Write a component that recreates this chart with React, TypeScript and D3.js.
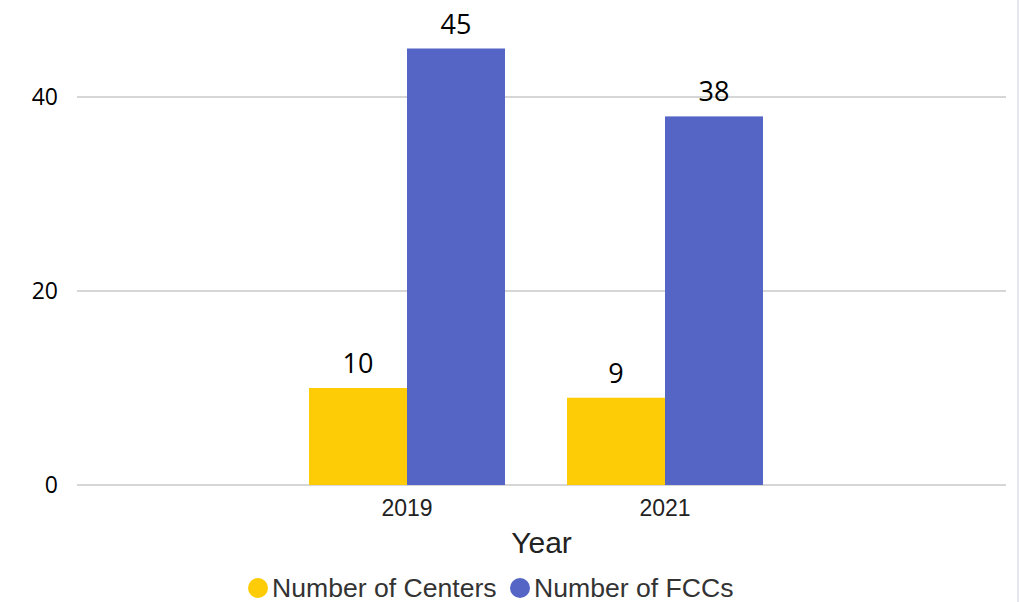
import * as d3 from 'd3';

const years = ['2019', '2021'];
const centers = [10, 9];
const fccs = [45, 38];
const seriesNames = ['Number of Centers', 'Number of FCCs'];
const yTicks = [0, 20, 40];

const W = 1019;
const H = 602;
const COLORS = ['#FECC07', '#5465C5'];
const plotLeft = 77;
const plotRight = 1006;

export default function App() {
  const y = d3.scaleLinear().domain([0, 50]).range([485, 0]);

  const x = d3.scaleBand()
    .domain(years)
    .range([76.8, 995.2])
    .paddingInner(0.2403)
    .paddingOuter(0.9);

  const x1 = d3.scaleBand()
    .domain(seriesNames)
    .range([0, x.bandwidth()]);

  const rows = years.map((yr, i) => ({ year: yr, values: [centers[i], fccs[i]] }));

  return (
    <svg
      width={W}
      height={H}
      style={{ position: 'absolute', left: 0, top: 0, background: '#fff' }}
    >
      <rect x={0} y={0} width={W} height={H} fill="#fff" />
      <rect x={1017} y={0} width={2} height={H} fill="#e6e6ee" />

      {/* grid + y labels */}
      {yTicks.map(t => (
        <g key={t}>
          <line
            x1={plotLeft}
            x2={plotRight}
            y1={y(t)}
            y2={y(t)}
            stroke="#c8c8c8"
            strokeWidth={1.5}
          />
          <text
            x={58}
            y={y(t) + 8}
            textAnchor="end"
            fontFamily="'Open Sans', sans-serif"
            fontSize={23}
            fill="#000"
          >
            {t}
          </text>
        </g>
      ))}

      {/* bars */}
      {rows.map(r => (
        <g key={r.year} transform={`translate(${x(r.year)},0)`}>
          {r.values.map((v, j) => (
            <g key={j}>
              <rect
                x={x1(seriesNames[j])}
                y={y(v)}
                width={x1.bandwidth()}
                height={y(0) - y(v)}
                fill={COLORS[j]}
              />
              <text
                x={(x1(seriesNames[j]) as number) + x1.bandwidth() / 2}
                y={y(v) - 15}
                textAnchor="middle"
                fontFamily="'Open Sans', sans-serif"
                fontSize={27}
                fill="#000"
              >
                {v}
              </text>
            </g>
          ))}
          <text
            x={x.bandwidth() / 2}
            y={516}
            textAnchor="middle"
            fontFamily="'Liberation Sans', Arial, sans-serif"
            fontSize={23}
            fill="#222"
          >
            {r.year}
          </text>
        </g>
      ))}

      <text
        x={(plotLeft + plotRight) / 2}
        y={553}
        textAnchor="middle"
        fontFamily="'Liberation Sans', Arial, sans-serif"
        fontSize={30}
        fill="#222"
      >
        Year
      </text>

      {/* legend */}
      {seriesNames.map((name, i) => {
        const lx = [258, 520][i];
        return (
          <g key={name}>
            <circle cx={lx} cy={588} r={10} fill={COLORS[i]} />
            <text
              x={lx + 14}
              y={597}
              fontFamily="'Liberation Sans', Arial, sans-serif"
              fontSize={26.6}
              fill="#333"
            >
              {name}
            </text>
          </g>
        );
      })}
    </svg>
  );
}
